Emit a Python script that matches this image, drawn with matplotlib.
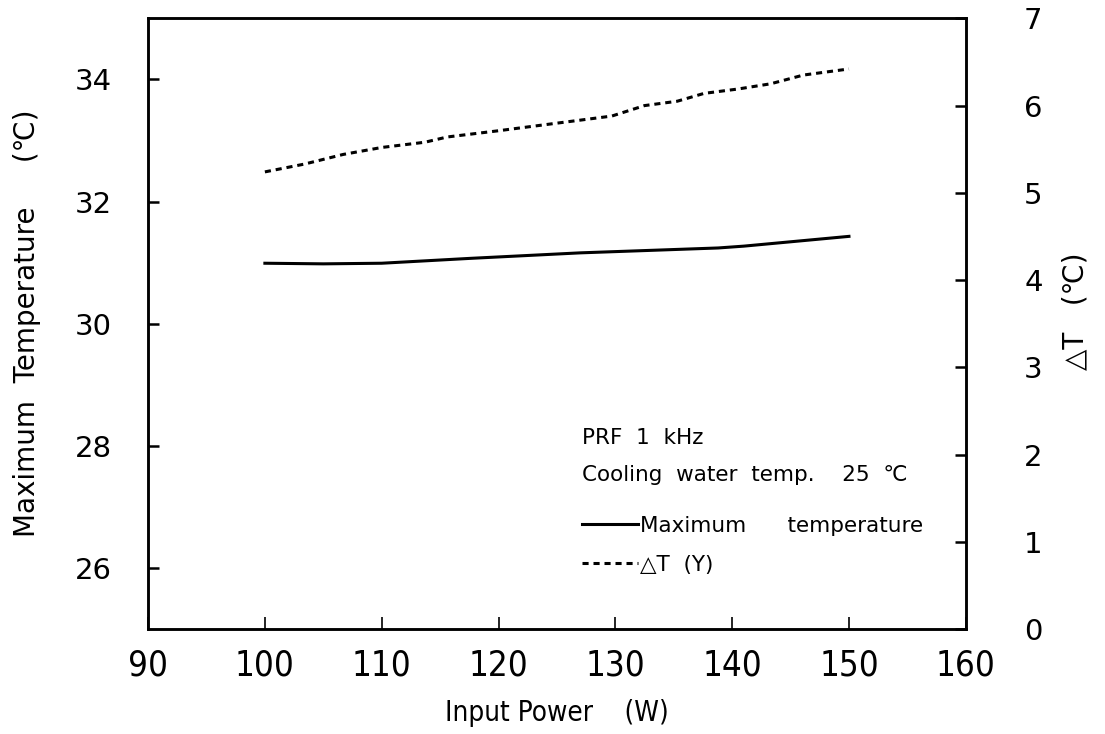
import matplotlib
matplotlib.use("Agg")
import matplotlib.pyplot as plt

# Data
power_max = [100, 105, 110, 117.6, 127, 138.8, 141, 150]
max_temp = [30.99, 30.98, 30.99, 31.07, 31.16, 31.24, 31.27, 31.43]

power_dt = [100, 103.4, 106.7, 110, 113.7, 115.6, 119.9, 124.5, 129.7,
            132.5, 135.3, 137.6, 140.5, 143.3, 146.1, 150]
delta_t = [5.24, 5.33, 5.44, 5.52, 5.58, 5.64, 5.71, 5.79, 5.88,
           6.0, 6.05, 6.14, 6.19, 6.25, 6.35, 6.42]

x_ticks = [90, 100, 110, 120, 130, 140, 150, 160]
left_ticks = [26, 28, 30, 32, 34]
right_ticks = [0, 1, 2, 3, 4, 5, 6, 7]

fig = plt.figure(figsize=(11.05, 7.34), dpi=100)
ax = fig.add_axes([0.134, 0.143, 0.740, 0.832])
ax2 = ax.twinx()

l1, = ax.plot(power_max, max_temp, color="black", lw=2.2)
l2, = ax2.plot(power_dt, delta_t, color="black", lw=2.2, linestyle=(0, (2.0, 1.6)))

ax.set_xlim(90, 160)
ax.set_ylim(25, 35)
ax2.set_ylim(0, 7)

ax.set_xticks(x_ticks)
ax.set_xticklabels([str(v) for v in x_ticks], fontsize=25, fontstretch="condensed")
ax.set_yticks(left_ticks)
ax.set_yticklabels([str(v) for v in left_ticks], fontsize=21)
ax2.set_yticks(right_ticks)
ax2.set_yticklabels([str(v) for v in right_ticks], fontsize=21)

ax.tick_params(axis="x", direction="in", length=9, width=1.2, pad=14, top=False)
ax.tick_params(axis="y", direction="in", length=8, width=1.8, pad=26)
ax2.tick_params(axis="y", direction="in", length=8, width=1.8, pad=42)

for a in (ax, ax2):
    for s in a.spines.values():
        s.set_linewidth(1.8)

ax.set_xlabel("Input Power    (W)", fontsize=20, fontstretch="condensed", labelpad=12)
ax.set_ylabel("Maximum  Temperature     (\u2103)", fontsize=20)
ax.yaxis.set_label_coords(-0.131, 0.5)
ax2.set_ylabel("\u25b3T   (\u2103)", fontsize=20)
ax2.yaxis.set_label_coords(1.117, 0.52)

ax.text(0.531, 0.313, "PRF  1  kHz", transform=ax.transAxes, fontsize=15.5, va="center")
ax.text(0.531, 0.253, "Cooling  water  temp.    25  \u2103", transform=ax.transAxes,
        fontsize=15.5, va="center")

ax.legend([l1, l2], ["Maximum      temperature", "\u25b3T  (Y)"],
          loc="upper left", bbox_to_anchor=(0.52, 0.20), frameon=False,
          fontsize=15.5, handlelength=2.6, handletextpad=0.1, labelspacing=0.9,
          borderaxespad=0)

fig.savefig("out.png", dpi=100)
